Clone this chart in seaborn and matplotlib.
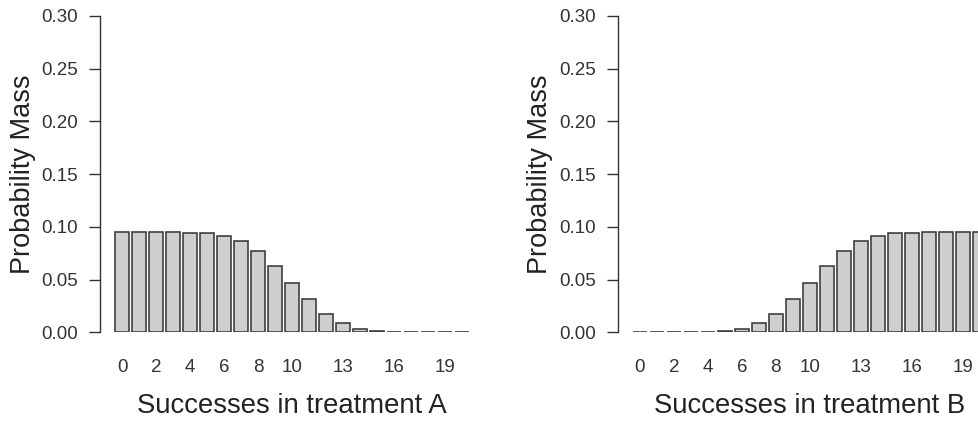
import matplotlib
matplotlib.use("Agg")
import matplotlib.pyplot as plt
import seaborn as sns
import pandas as pd

successes = [str(i) for i in range(21)]
prob_a = [0.0949, 0.0949, 0.0949, 0.0948, 0.0946, 0.0940, 0.0914, 0.0863, 0.0769,
          0.0632, 0.0471, 0.0313, 0.0177, 0.0088, 0.0031, 0.0008, 0.0001, 0.0,
          0.0, 0.0, 0.0]
prob_b = [0.0, 0.0, 0.0, 0.0, 0.0001, 0.0008, 0.0031, 0.0088, 0.0177, 0.0313,
          0.0471, 0.0632, 0.0769, 0.0863, 0.0914, 0.0940, 0.0946, 0.0948,
          0.0949, 0.0949, 0.0949]
xtick_labels = ["0", "2", "4", "6", "8", "10", "13", "16", "19"]
ytick_values = [0.00, 0.05, 0.10, 0.15, 0.20, 0.25, 0.30]
xlabels = ["Successes in treatment A", "Successes in treatment B"]
ylabel = "Probability Mass"

sns.set_style("white")
plt.rcParams["font.family"] = ["Liberation Sans", "DejaVu Sans"]

W, H = 979, 421
fig = plt.figure(figsize=(W / 100, H / 100), dpi=100)

pitch = 17.0
bar0_centers = [122.1, 639.8]
spines = [100.0, 618.0]
y0_px, y30_px = 332.3, 16.0
xlim_right = 20.6

text_col = "#333333"
for k, (vals, xl) in enumerate([(prob_a, xlabels[0]), (prob_b, xlabels[1])]):
    left_px = spines[k]
    xlim_left = -(bar0_centers[k] - left_px) / pitch
    right_px = bar0_centers[k] + xlim_right * pitch
    ax = fig.add_axes([left_px / W, (H - y0_px) / H,
                       (right_px - left_px) / W, (y0_px - y30_px) / H])
    df = pd.DataFrame({"x": successes, "p": vals})
    sns.barplot(data=df, x="x", y="p", order=successes, ax=ax,
                color="#cfcfcf", saturation=1, edgecolor="#404040",
                linewidth=1.2, width=0.84)
    ax.set_xlim(xlim_left, xlim_right)
    ax.set_ylim(0, 0.30)
    ax.set_xticks([int(t) for t in xtick_labels])
    ax.set_xticklabels(xtick_labels)
    ax.set_yticks(ytick_values)
    ax.set_yticklabels([f"{v:.2f}" for v in ytick_values])
    for s in ["top", "right", "bottom"]:
        ax.spines[s].set_visible(False)
    ax.spines["left"].set_color(text_col)
    ax.spines["left"].set_linewidth(1.0)
    ax.tick_params(axis="x", length=0, pad=19, labelsize=13.5, labelcolor=text_col)
    ax.tick_params(axis="y", left=True, length=8, width=1.0, color=text_col,
                   pad=8, labelsize=13.5, labelcolor=text_col)
    ax.set_xlabel(xl, fontsize=19.8, color="#222222")
    ax.set_ylabel(ylabel, fontsize=19.5, color="#222222")
    ax_w = right_px - left_px
    ax_h = y0_px - y30_px
    bars_center = bar0_centers[k] + 10 * pitch
    ax.xaxis.set_label_coords((bars_center - left_px) / ax_w, -(406 - y0_px) / ax_h)
    ax.xaxis.label.set_va("center")
    ylab_x = [23, 540][k]
    ax.yaxis.set_label_coords((ylab_x - left_px) / ax_w, 0.5)
    ax.yaxis.label.set_va("center")
    ax.patch.set_alpha(0)

fig.savefig("out.png", dpi=100, facecolor="white")
